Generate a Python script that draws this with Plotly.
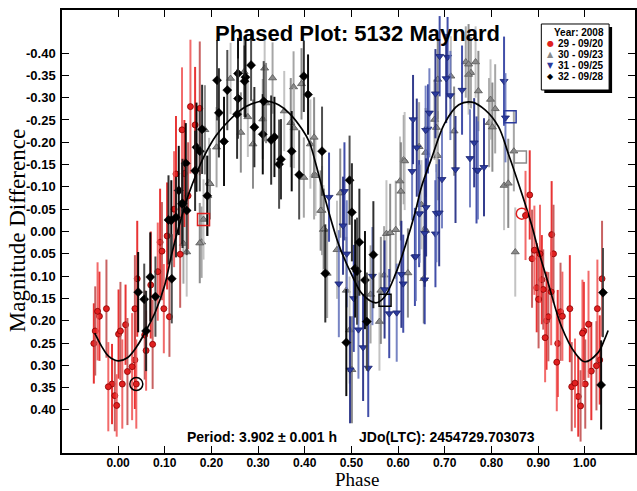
import plotly.graph_objects as go

# ---------------- data ----------------
# Series 29 - 09/20 (red circles)
red_phase = [-0.052, -0.049, -0.044, -0.040, -0.025, -0.021, -0.013, -0.007, -0.003, 0.001,
             0.005, 0.009, 0.016, 0.020, 0.030, 0.036, 0.036, 0.039, 0.041, 0.057, 0.060,
             0.070, 0.074, 0.085, 0.090, 0.094, 0.098, 0.105, 0.110, 0.120, 0.124,
             0.133, 0.137, 0.142, 0.150, 0.155, 0.165, 0.175,
             0.873, 0.882, 0.887, 0.892, 0.897, 0.901, 0.904, 0.908, 0.911, 0.915,
             0.918, 0.922, 0.928, 0.929, 0.933, 0.940, 0.942, 0.948, 0.952, 0.968,
             0.972, 0.979, 0.986, 0.991, 0.995, 0.998, 1.001, 1.008, 1.014, 1.025,
             1.027, 1.032, 1.037]
red_mag = [0.251, 0.223, 0.179, 0.190, 0.173, 0.348, 0.342, 0.368, 0.390, 0.230,
           0.223, 0.342, 0.209, 0.314, 0.303, 0.288, 0.173, 0.342, 0.106, 0.232, 0.267,
           0.120, 0.253, 0.090, 0.024, 0.044, 0.173, 0.010, 0.191, -0.050, -0.129,
           0.051, -0.228, -0.130, -0.080, -0.280, -0.239, -0.276,
           -0.036, -0.082, 0.061, 0.042, 0.126, 0.152, 0.050, 0.108, 0.130, 0.238,
           0.200, 0.191, 0.135, 0.007, 0.050, 0.293, 0.251, 0.180, 0.190, 0.173,
           0.348, 0.340, 0.370, 0.391, 0.228, 0.223, 0.342, 0.208, 0.313, 0.301,
           0.173, 0.288, 0.106]
red_err = [0.09, 0.10, 0.11, 0.10, 0.11, 0.10, 0.09, 0.08, 0.07, 0.10,
           0.11, 0.10, 0.09, 0.12, 0.12, 0.11, 0.12, 0.10, 0.13, 0.10, 0.09,
           0.12, 0.10, 0.11, 0.12, 0.11, 0.10, 0.12, 0.09, 0.13, 0.13,
           0.12, 0.14, 0.12, 0.12, 0.15, 0.13, 0.15,
           0.10, 0.10, 0.11, 0.10, 0.10, 0.11, 0.11, 0.10, 0.09, 0.10,
           0.11, 0.10, 0.12, 0.12, 0.11, 0.11, 0.12, 0.11, 0.10, 0.12,
           0.10, 0.10, 0.09, 0.08, 0.12, 0.11, 0.10, 0.12, 0.11, 0.10,
           0.11, 0.10, 0.13]

# Series 30 - 09/23 (gray up-triangles)
gray_phase = [0.140, 0.147, 0.175, 0.179, 0.183, 0.186, 0.192, 0.195, 0.197, 0.211,
              0.241, 0.263, 0.270, 0.278, 0.289, 0.310, 0.314, 0.317, 0.331, 0.356,
              0.370, 0.376, 0.377, 0.393, 0.398, 0.412, 0.420, 0.420, 0.423, 0.434,
              0.437, 0.440, 0.441, 0.448, 0.469, 0.476, 0.489, 0.496, 0.501, 0.541,
              0.560, 0.563, 0.570, 0.575, 0.583, 0.595, 0.604, 0.606, 0.612, 0.614,
              0.621, 0.645, 0.650, 0.655, 0.657, 0.659, 0.659, 0.678, 0.682, 0.685,
              0.685, 0.713, 0.720, 0.745, 0.751, 0.751, 0.756, 0.766, 0.772, 0.795,
              0.798, 0.802, 0.808, 0.827, 0.836, 0.848, 0.851]
gray_mag = [0.027, 0.046, 0.026, 0.024, -0.027, -0.228, -0.080, -0.110, -0.107, -0.189,
            -0.343, -0.222, -0.358, -0.257, -0.196, -0.252, -0.366, -0.288, -0.344, -0.270,
            -0.244, -0.324, -0.232, -0.331, -0.121, -0.196, -0.211, -0.127, -0.125, -0.047,
            -0.047, -0.004, -0.006, 0.094, 0.041, -0.086, 0.132, 0.221, 0.310, 0.141,
            0.202, 0.132, 0.098, 0.005, 0.003, -0.004, -0.113, -0.090, -0.161, -0.158,
            0.093, -0.190, -0.060, 0.106, -0.006, -0.002, -0.177, -0.251, -0.233, -0.341,
            -0.170, -0.348, -0.225, -0.380, -0.352, -0.375, -0.356, -0.380, -0.315, -0.244,
            -0.296, -0.234, -0.275, -0.103, -0.108, -0.180, 0.046]
gray_err = [0.09, 0.10, 0.09, 0.08, 0.09, 0.10, 0.09, 0.10, 0.08, 0.09,
            0.08, 0.09, 0.08, 0.09, 0.10, 0.09, 0.07, 0.09, 0.08, 0.09,
            0.10, 0.08, 0.09, 0.08, 0.09, 0.10, 0.09, 0.10, 0.09, 0.09,
            0.10, 0.10, 0.09, 0.10, 0.11, 0.10, 0.12, 0.12, 0.12, 0.11,
            0.11, 0.12, 0.11, 0.12, 0.11, 0.11, 0.10, 0.11, 0.10, 0.11,
            0.10, 0.10, 0.10, 0.10, 0.11, 0.10, 0.10, 0.09, 0.10, 0.09,
            0.10, 0.09, 0.10, 0.08, 0.09, 0.09, 0.08, 0.08, 0.09, 0.10,
            0.09, 0.10, 0.10, 0.10, 0.10, 0.09, 0.10]

# Series 31 - 09/25 (blue down-triangles)
blue_phase = [0.452, 0.473, 0.482, 0.485, 0.490, 0.497, 0.505, 0.515, 0.525, 0.536,
              0.545, 0.571, 0.581, 0.597, 0.607, 0.611, 0.630, 0.632, 0.636, 0.638,
              0.640, 0.645, 0.646, 0.657, 0.657, 0.659, 0.660, 0.664, 0.667, 0.680,
              0.680, 0.682, 0.688, 0.689, 0.694, 0.703, 0.706, 0.712, 0.723, 0.737,
              0.754, 0.763, 0.768, 0.771, 0.784, 0.827, 0.830]
blue_mag = [-0.077, 0.117, -0.013, -0.090, 0.050, 0.310, 0.150, 0.220, 0.260, 0.306,
            0.100, 0.130, 0.184, 0.182, 0.096, 0.117, -0.135, -0.251, 0.057, 0.056,
            -0.188, -0.040, -0.040, 0.004, 0.108, -0.227, -0.054, -0.230, -0.266, -0.309,
            0.005, -0.041, -0.042, -0.393, -0.117, -0.343, -0.391, -0.305, -0.139, -0.317,
            -0.164, -0.199, -0.138, -0.137, -0.144, -0.337, -0.255]
blue_err = [0.10, 0.12, 0.11, 0.11, 0.12, 0.12, 0.12, 0.11, 0.12, 0.11,
            0.11, 0.11, 0.10, 0.11, 0.12, 0.11, 0.11, 0.10, 0.11, 0.10,
            0.11, 0.12, 0.11, 0.12, 0.10, 0.10, 0.11, 0.10, 0.10, 0.10,
            0.12, 0.11, 0.12, 0.09, 0.11, 0.10, 0.09, 0.10, 0.12, 0.10,
            0.11, 0.10, 0.12, 0.11, 0.11, 0.10, 0.10]

# Series 32 - 09/28 (black diamonds)
black_phase = [0.043, 0.056, 0.060, 0.069, 0.080, 0.108, 0.114, 0.115, 0.124, 0.130,
               0.137, 0.138, 0.145, 0.147, 0.165, 0.168, 0.175, 0.180, 0.191, 0.212,
               0.216, 0.227, 0.234, 0.255, 0.257, 0.257, 0.271, 0.273, 0.285, 0.292,
               0.310, 0.312, 0.328, 0.335, 0.345, 0.349, 0.372, 0.388, 0.398, 0.407,
               0.437, 0.444, 0.489, 0.496, 0.501, 0.508, 0.512, 0.517, 0.529, 0.533,
               0.547, 1.035, 1.039]
black_mag = [0.136, 0.152, 0.223, 0.102, 0.146, -0.026, -0.025, 0.106, -0.032, -0.092,
             -0.062, -0.063, -0.153, -0.047, -0.136, -0.189, -0.180, -0.229, -0.080, -0.339,
             -0.266, -0.202, -0.317, -0.263, -0.354, -0.298, -0.337, -0.346, -0.373, -0.234,
             -0.218, -0.292, -0.205, -0.212, -0.151, -0.162, -0.180, -0.127, -0.348, -0.307,
             -0.180, 0.094, 0.249, -0.115, -0.043, 0.083, 0.089, 0.024, 0.109, 0.202,
             0.052, 0.344, 0.137]
black_err = [0.09, 0.08, 0.09, 0.10, 0.09, 0.10, 0.09, 0.10, 0.09, 0.10,
             0.09, 0.10, 0.09, 0.10, 0.09, 0.10, 0.09, 0.10, 0.09, 0.09,
             0.10, 0.10, 0.09, 0.10, 0.08, 0.09, 0.08, 0.09, 0.08, 0.09,
             0.09, 0.09, 0.10, 0.09, 0.10, 0.09, 0.09, 0.10, 0.08, 0.09,
             0.10, 0.11, 0.12, 0.10, 0.11, 0.11, 0.12, 0.12, 0.11, 0.11,
             0.12, 0.10, 0.10]

# Highlighted (open-symbol) points
red_open_sq = ([0.183], [-0.027])
red_open_circ = ([0.865], [-0.040])
black_open_circ = ([0.039], [0.342])
gray_open_sq = ([0.862], [-0.167])
blue_open_sq = ([0.840], [-0.257])
black_open_sq = ([0.572], [0.154])

# Fourier fit curve
fit_phase = [-0.050, -0.035, -0.020, 0.000, 0.020, 0.040, 0.060, 0.080, 0.100, 0.115,
             0.130, 0.150, 0.170, 0.185, 0.210, 0.239, 0.274, 0.310, 0.338, 0.367,
             0.395, 0.410, 0.424, 0.445, 0.473, 0.502, 0.523, 0.552, 0.570, 0.595,
             0.616, 0.637, 0.650, 0.672, 0.700, 0.730, 0.758, 0.787, 0.815, 0.836,
             0.865, 0.886, 0.900, 0.922, 0.950, 0.979, 1.000, 1.028, 1.042, 1.050]
fit_mag = [0.228, 0.258, 0.280, 0.290, 0.283, 0.258, 0.222, 0.180, 0.120, 0.050,
           -0.010, -0.080, -0.135, -0.170, -0.215, -0.250, -0.280, -0.292, -0.287, -0.265,
           -0.228, -0.200, -0.150, -0.068, 0.030, 0.100, 0.140, 0.160, 0.148, 0.094,
           0.030, -0.045, -0.100, -0.165, -0.243, -0.284, -0.290, -0.272, -0.235, -0.175,
           -0.085, -0.015, 0.040, 0.117, 0.213, 0.272, 0.292, 0.272, 0.243, 0.222]

x_ticks = [0.0, 0.1, 0.2, 0.3, 0.4, 0.5, 0.6, 0.7, 0.8, 0.9, 1.0]
x_tick_text = ["0.00", "0.10", "0.20", "0.30", "0.40", "0.50", "0.60", "0.70", "0.80", "0.90", "1.00"]
y_ticks = [-0.40, -0.35, -0.30, -0.25, -0.20, -0.15, -0.10, -0.05, 0.00,
           0.05, 0.10, 0.15, 0.20, 0.25, 0.30, 0.35, 0.40]
y_tick_text = ["-0.40", "-0.35", "-0.30", "-0.25", "-0.20", "-0.15", "-0.10", "-0.05", "0.00",
               "0.05", "0.10", "0.15", "0.20", "0.25", "0.30", "0.35", "0.40"]

legend_labels = ["29 - 09/20", "30 - 09/23", "31 - 09/25", "32 - 09/28"]

# ---------------- figure ----------------
fig = go.Figure()


def add_series(name, ph, mg, er, marker, bar_colors):
    n = len(bar_colors)
    for k, col in enumerate(bar_colors):
        idx = list(range(k, len(ph), n))
        fig.add_trace(go.Scatter(
            x=[ph[i] for i in idx], y=[mg[i] for i in idx],
            mode="markers", name=name, legendgroup=name, showlegend=False,
            marker=marker,
            error_y=dict(type="data", array=[er[i] for i in idx], visible=True,
                         color=col, thickness=2, width=0),
        ))


add_series(legend_labels[1], gray_phase, gray_mag, gray_err,
           dict(symbol="triangle-up", size=7, color="#8a8a8a", line=dict(color="#555555", width=0.8)),
           ["rgba(150,150,150,0.85)", "rgba(185,185,185,0.85)", "rgba(120,120,120,0.85)"])
add_series(legend_labels[2], blue_phase, blue_mag, blue_err,
           dict(symbol="triangle-down", size=7, color="#2b3a9c", line=dict(color="#1a2570", width=0.8)),
           ["rgba(45,60,160,0.9)", "rgba(95,110,185,0.85)", "rgba(30,40,130,0.9)"])
add_series(legend_labels[0], red_phase, red_mag, red_err,
           dict(symbol="circle", size=6, color="#e02020", line=dict(color="#8a0000", width=0.8)),
           ["rgba(230,30,30,0.9)", "rgba(190,70,70,0.85)", "rgba(240,80,80,0.85)"])
add_series(legend_labels[3], black_phase, black_mag, black_err,
           dict(symbol="diamond", size=7, color="#000000", line=dict(color="#000000", width=0.5)),
           ["rgba(0,0,0,0.95)", "rgba(60,60,60,0.9)", "rgba(25,25,25,0.9)"])

fig.add_trace(go.Scatter(x=fit_phase, y=fit_mag, mode="lines", showlegend=False,
                         line=dict(color="#000000", width=1.7, shape="spline", smoothing=1.0)))

for pts, sym, col, size in [
    (red_open_sq, "square-open", "#e02020", 12),
    (red_open_circ, "circle-open", "#e02020", 11),
    (black_open_circ, "circle-open", "#000000", 13),
    (gray_open_sq, "square-open", "#8a8a8a", 12),
    (blue_open_sq, "square-open", "#2b3a9c", 12),
    (black_open_sq, "square-open", "#000000", 12),
]:
    fig.add_trace(go.Scatter(x=pts[0], y=pts[1], mode="markers", showlegend=False,
                             marker=dict(symbol=sym, size=size, color=col,
                                         line=dict(color=col, width=1.5))))

SANS = "Liberation Sans, Arial, sans-serif"
SERIF = "Liberation Serif, Times New Roman, serif"
xbold = dict(family=SANS, size=12, color="#000000", weight="bold")
ybold = dict(family=SANS, size=13, color="#000000", weight="bold")

fig.update_layout(
    width=637, height=491,
    margin=dict(l=62, r=0, t=10, b=38),
    paper_bgcolor="#ffffff", plot_bgcolor="#ffffff",
    showlegend=False,
    xaxis=dict(range=[-0.1202, 1.1076], tickvals=x_ticks, ticktext=x_tick_text,
               ticks="inside", ticklen=7, tickwidth=1.2, tickcolor="#000000",
               showline=True, linecolor="#000000", linewidth=1.5, mirror="ticks",
               showgrid=False, zeroline=False, tickfont=xbold, ticklabelstandoff=-2),
    yaxis=dict(range=[0.4966, -0.4966], tickvals=y_ticks, ticktext=y_tick_text,
               ticks="inside", ticklen=7, tickwidth=1.2, tickcolor="#000000",
               showline=True, linecolor="#000000", linewidth=1.5, mirror="ticks",
               showgrid=False, zeroline=False, tickfont=ybold, ticklabelstandoff=2),
)

annots = [
    dict(text="Phased Plot: 5132 Maynard", x=0.515, y=0.948, xanchor="center", yanchor="middle",
         font=dict(family=SANS, size=22, color="#000", weight="bold")),
    dict(text="Period: 3.902 ± 0.001 h", x=0.214, y=0.036, xanchor="left", yanchor="middle",
         font=dict(family=SANS, size=14, color="#000", weight="bold")),
    dict(text="JDo(LTC): 2454729.703073", x=0.515, y=0.036, xanchor="left", yanchor="middle",
         font=dict(family=SANS, size=14, color="#000", weight="bold")),
    dict(text="Phase", x=0.515, y=(453 - 491) / 443, xanchor="center", yanchor="bottom",
         borderpad=0, font=dict(family=SERIF, size=19, color="#000")),
    dict(text="Magnitude Difference", x=-0.0783, y=0.501, xanchor="center", yanchor="middle",
         textangle=-90,
         font=dict(family=SERIF, size=23, color="#000")),
]

# manual compact legend (box + shadow + entries)
lx0, lx1, ly0, ly1 = 0.8365, 0.9548, 0.8194, 0.9684
sh_dx, sh_dy = 3 / 575, 3 / 443
shapes = [
    dict(type="rect", xref="paper", yref="paper", x0=lx0 + sh_dx, x1=lx1 + sh_dx,
         y0=ly0 - sh_dy, y1=ly1 - sh_dy, fillcolor="#000000", line=dict(width=0), layer="above"),
    dict(type="rect", xref="paper", yref="paper", x0=lx0, x1=lx1, y0=ly0, y1=ly1,
         fillcolor="#ffffff", line=dict(color="#000000", width=1), layer="above"),
]
annots.append(dict(text="Year: 2008", x=(608 - 62) / 575, y=(453 - 32) / 443,
                   xanchor="right", yanchor="middle",
                   font=dict(family=SANS, size=10, color="#000", weight="bold")))
sym_chars = ["●", "▲", "▼", "◆"]
sym_cols = ["#e02020", "#8a8a8a", "#2b3a9c", "#000000"]
entry_y = [43.5, 54.5, 65.5, 76.5]
for lab, ch, col, yy in zip(legend_labels, sym_chars, sym_cols, entry_y):
    annots.append(dict(text=ch, x=(552 - 62) / 575, y=(453 - yy) / 443, xanchor="center", yanchor="middle",
                       font=dict(family="DejaVu Sans", size=8, color=col)))
    annots.append(dict(text=lab, x=(557.5 - 62) / 575, y=(453 - yy) / 443, xanchor="left", yanchor="middle",
                       font=dict(family=SANS, size=10, color="#000", weight="bold")))

for a in annots:
    a.setdefault("xref", "paper")
    a.setdefault("yref", "paper")
    a.setdefault("showarrow", False)

fig.update_layout(annotations=annots, shapes=shapes)
fig.write_html("out.html")
